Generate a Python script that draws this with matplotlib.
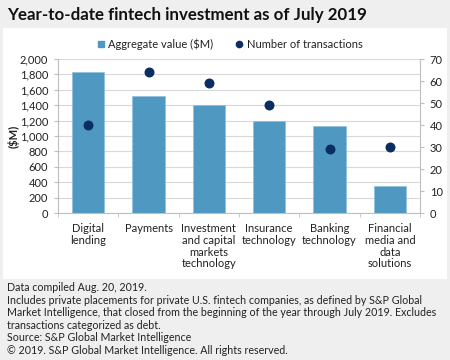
import matplotlib
matplotlib.use("Agg")
import matplotlib.pyplot as plt
from matplotlib.patches import Rectangle
from matplotlib.lines import Line2D

plt.rcParams['font.family'] = ['Lato', 'DejaVu Sans']

categories = ["Digital\nlending", "Payments", "Investment\nand capital\nmarkets\ntechnology",
              "Insurance\ntechnology", "Banking\ntechnology", "Financial\nmedia and\ndata\nsolutions"]
aggregate_value = [1835, 1518, 1401, 1193, 1128, 351]
num_transactions = [40, 64, 59, 49, 29, 30]
left_ticks = list(range(0, 2001, 200))
right_ticks = list(range(0, 71, 10))

bar_color = "#4f98c2"
dot_color = "#0a2d63"
bg = "#efefef"
text_color = "#222222"

fig = plt.figure(figsize=(4.5, 3.6), dpi=100)
fig.patch.set_facecolor(bg)
fig.patches.append(Rectangle((3/450, 1-279/360), 444/450, 251/360, transform=fig.transFigure,
                             facecolor="white", edgecolor="none", zorder=-5))

fig.text(7/450, 1-15/360, "Year-to-date fintech investment as of July 2019", fontsize=12.2,
         fontweight="bold", color="#111111", va="center", ha="left")

ax = fig.add_axes([58/450, 1-213/360, 362/450, 154/360])
ax.set_facecolor("none")
x = list(range(len(categories)))
ax.bar(x, aggregate_value, width=0.54, color=bar_color, edgecolor="#8fbfdc", linewidth=0.5, zorder=2)
ax.set_xlim(-0.5, len(categories)-0.5)
ax.set_ylim(0, 2000)
ax.set_yticks(left_ticks)
ax.set_yticklabels([f"{v:,}" for v in left_ticks])
ax.yaxis.grid(True, color="#d9d9d9", linewidth=0.8, zorder=0)
ax.set_axisbelow(True)
for s in ["top", "right"]:
    ax.spines[s].set_visible(False)
ax.spines["left"].set_color("#bfbfbf")
ax.spines["bottom"].set_color("#bfbfbf")
ax.tick_params(axis="y", length=3, color="#bfbfbf", labelsize=8, labelcolor=text_color, pad=4)
ax.set_xticks(x)
ax.set_xticklabels(categories, fontsize=8, color=text_color, linespacing=1.1, va="top")
ax.tick_params(axis="x", length=0, pad=7)
ax.set_xticks([i + 0.5 for i in range(-1, len(categories))], minor=True)
ax.tick_params(axis="x", which="minor", length=3, color="#bfbfbf")
ax.set_ylabel("($M)", fontsize=8, fontweight="bold", color=text_color, labelpad=0)

ax2 = ax.twinx()
ax2.scatter(x, num_transactions, s=38, color=dot_color, zorder=3)
ax2.set_ylim(0, 70)
ax2.set_yticks(right_ticks)
for s in ["top", "left", "bottom"]:
    ax2.spines[s].set_visible(False)
ax2.spines["right"].set_color("#bfbfbf")
ax2.tick_params(axis="y", length=3, color="#bfbfbf", labelsize=8, labelcolor=text_color, pad=4)

handles = [Line2D([], [], marker="s", linestyle="none", color=bar_color, markersize=5),
           Line2D([], [], marker="o", linestyle="none", color=dot_color, markersize=4.5)]
fig.legend(handles, ["Aggregate value ($M)", "Number of transactions"], loc="center",
           bbox_to_anchor=(226/450, 1-44/360), ncol=2, frameon=False, fontsize=8,
           handletextpad=-0.3, columnspacing=1.3, labelcolor=text_color)

footer = ("Data compiled Aug. 20, 2019.\n"
          "Includes private placements for private U.S. fintech companies, as defined by S&P Global\n"
          "Market Intelligence, that closed from the beginning of the year through July 2019. Excludes\n"
          "transactions categorized as debt.\n"
          "Source: S&P Global Market Intelligence\n"
          "\u00a9 2019. S&P Global Market Intelligence. All rights reserved.")
fig.text(7/450, 1-282/360, footer, fontsize=7.7, color=text_color, va="top", ha="left", linespacing=1.17)

fig.savefig("out.png", dpi=100, facecolor=bg)
